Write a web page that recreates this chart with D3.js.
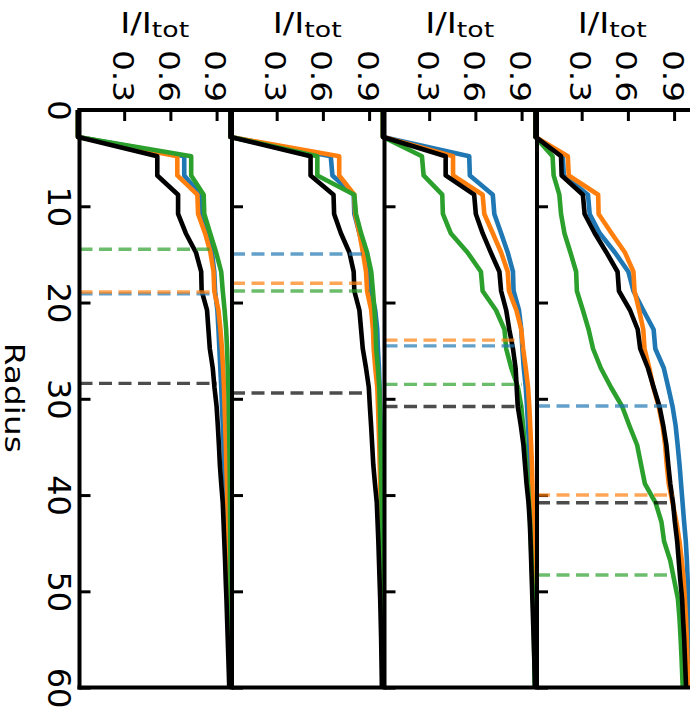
<!DOCTYPE html>
<html><head><meta charset="utf-8">
<script src="https://cdn.jsdelivr.net/npm/d3@7"></script>
<style>body{margin:0;background:#fff}svg{display:block}</style>
</head><body><div id="chart"></div>
<script>
// ---------- data ----------
const radius = [0,2.8,4.8,6.8,8.8,10.8,12.8,14.8,16.8,18.8,20.8,22.8,24.8,26.8,28.8,30.8,32.8,34.8,36.8,38.8,40.8,42.8,44.8,46.8,48.8,50.8,52.8,54.8,56.8,58.8,60];
const xTickValues = [0.3, 0.6, 0.9];
const radiusTickValues = [0, 10, 20, 30, 40, 50, 60];
const seriesColors = ["#1f77b4", "#ff7f0e", "#2ca02c", "#000000"]; // blue, orange, green, black

const p1Blue   = [0,0,0.69,0.69,0.795,0.80,0.84,0.87,0.885,0.89,0.905,0.912,0.918,0.924,0.93,0.935,0.94,0.945,0.95,0.957,0.962,0.966,0.97,0.974,0.977,0.98,0.983,0.985,0.987,0.989,0.99];
const p1Orange = [0,0,0.645,0.645,0.775,0.78,0.825,0.86,0.88,0.885,0.912,0.925,0.935,0.942,0.948,0.952,0.956,0.96,0.963,0.967,0.97,0.973,0.976,0.978,0.98,0.982,0.984,0.986,0.988,0.99,0.99];
const p1Green  = [0,0,0.735,0.735,0.816,0.82,0.858,0.897,0.93,0.94,0.952,0.962,0.968,0.972,0.976,0.979,0.981,0.983,0.985,0.986,0.987,0.988,0.989,0.99,0.99,0.991,0.991,0.992,0.992,0.992,0.992];
const p1Black  = [0,0,0.515,0.515,0.65,0.65,0.70,0.766,0.80,0.803,0.838,0.847,0.856,0.875,0.886,0.90,0.908,0.915,0.921,0.93,0.94,0.945,0.95,0.955,0.959,0.964,0.968,0.972,0.976,0.98,0.982];

const p2Blue   = [0,0,0.651,0.662,0.80,0.804,0.837,0.87,0.90,0.914,0.94,0.953,0.957,0.964,0.968,0.971,0.974,0.976,0.978,0.98,0.982,0.984,0.985,0.986,0.987,0.988,0.989,0.99,0.99,0.991,0.991];
const p2Orange = [0,0,0.706,0.706,0.804,0.81,0.837,0.86,0.88,0.887,0.914,0.925,0.93,0.94,0.953,0.958,0.962,0.966,0.969,0.972,0.975,0.978,0.98,0.982,0.984,0.986,0.987,0.988,0.989,0.99,0.99];
const p2Green  = [0,0,0.564,0.564,0.804,0.815,0.848,0.887,0.914,0.925,0.935,0.942,0.946,0.957,0.966,0.97,0.973,0.975,0.977,0.979,0.981,0.983,0.984,0.985,0.986,0.987,0.988,0.989,0.99,0.99,0.99];
const p2Black  = [0,0,0.52,0.52,0.669,0.673,0.717,0.772,0.80,0.804,0.837,0.848,0.859,0.88,0.898,0.905,0.913,0.92,0.927,0.938,0.95,0.955,0.96,0.964,0.968,0.972,0.975,0.978,0.98,0.982,0.983];

const p3Blue   = [0,0,0.56,0.564,0.713,0.723,0.767,0.81,0.844,0.848,0.883,0.898,0.905,0.914,0.927,0.935,0.942,0.948,0.953,0.958,0.962,0.966,0.97,0.973,0.976,0.979,0.982,0.984,0.986,0.988,0.989];
const p3Orange = [0,0,0.455,0.455,0.647,0.658,0.713,0.767,0.81,0.818,0.866,0.898,0.91,0.927,0.942,0.95,0.956,0.962,0.967,0.97,0.973,0.976,0.979,0.981,0.983,0.985,0.987,0.988,0.989,0.99,0.99];
const p3Green  = [0,0,0.253,0.264,0.385,0.389,0.44,0.549,0.636,0.647,0.734,0.789,0.80,0.833,0.876,0.898,0.91,0.92,0.93,0.94,0.948,0.955,0.96,0.965,0.97,0.974,0.977,0.98,0.982,0.984,0.985];
const p3Black  = [0,0,0.407,0.407,0.592,0.603,0.647,0.70,0.756,0.767,0.80,0.82,0.844,0.861,0.868,0.875,0.895,0.912,0.922,0.932,0.945,0.953,0.958,0.962,0.966,0.97,0.974,0.978,0.982,0.985,0.987];

const p4Blue   = [0,0,0.177,0.184,0.341,0.352,0.417,0.516,0.603,0.636,0.70,0.767,0.778,0.833,0.862,0.89,0.91,0.923,0.935,0.945,0.955,0.965,0.976,0.983,0.988,0.993,0.995,0.996,0.997,0.998,0.998];
const p4Orange = [0,0,0.21,0.216,0.407,0.41,0.494,0.581,0.636,0.643,0.673,0.70,0.708,0.739,0.765,0.80,0.825,0.842,0.852,0.865,0.89,0.915,0.935,0.95,0.962,0.97,0.977,0.982,0.986,0.99,0.992];
const p4Green  = [0,0,0.111,0.118,0.155,0.166,0.188,0.227,0.264,0.269,0.308,0.345,0.374,0.424,0.49,0.563,0.61,0.66,0.685,0.71,0.78,0.818,0.835,0.875,0.9,0.925,0.935,0.942,0.948,0.953,0.956];
const p4Black  = [0,0,0.166,0.17,0.308,0.319,0.385,0.461,0.533,0.542,0.614,0.664,0.68,0.73,0.767,0.805,0.83,0.85,0.862,0.875,0.893,0.905,0.92,0.93,0.94,0.952,0.958,0.965,0.97,0.975,0.978];

// radius where each series reaches 90% (dashed markers): blue, orange, green, black
const p1Cut = [19.1, 18.9, 14.47, 28.4];
const p2Cut = [14.96, 18.0, 18.8, 29.4];
const p3Cut = [24.5, 23.9, 28.5, 30.8];
const p4Cut = [30.75, 40.0, 48.3, 40.8];
const cutLevel = 0.9;

const panels = [
  {series: [p1Blue, p1Orange, p1Green, p1Black], cuts: p1Cut},
  {series: [p2Blue, p2Orange, p2Green, p2Black], cuts: p2Cut},
  {series: [p3Blue, p3Orange, p3Green, p3Black], cuts: p3Cut},
  {series: [p4Blue, p4Orange, p4Green, p4Black], cuts: p4Cut}
];

// ---------- layout ----------
const W = 690, H = 714;
const plotTop = 110, plotBottom = 687.6;
const firstLeft = 79.5, panelW = 152.5;
const FONT = "DejaVu Sans, Liberation Sans, sans-serif";

const svg = d3.select("#chart").append("svg").attr("width", W).attr("height", H)
  .style("font-family", FONT);

const y = d3.scaleLinear().domain([0, 60]).range([plotTop, plotBottom]);

const tickLayer = svg.append("g");
const lineLayer = svg.append("g");
const dashLayer = svg.append("g");
const spineLayer = svg.append("g");
const labelLayer = svg.append("g");

panels.forEach((p, i) => {
  const left = firstLeft + i * panelW;
  const x = d3.scaleLinear().domain([0.01, 1.0]).range([left, left + panelW]);

  // top axis (inward ticks, rotated labels)
  const ax = tickLayer.append("g").attr("transform", `translate(0,${plotTop})`)
    .call(d3.axisTop(x).tickValues(xTickValues).tickSize(-11).tickFormat(d3.format(".1f")));
  ax.select(".domain").remove();
  ax.selectAll(".tick line").attr("stroke", "#000").attr("stroke-width", 3);
  ax.selectAll(".tick text")
    .attr("y", null).attr("dy", null)
    .attr("transform", "translate(-2,-8) rotate(90)")
    .attr("text-anchor", "end")
    .attr("dominant-baseline", "central")
    .attr("font-family", FONT)
    .attr("font-size", 29)
    .attr("textLength", 52)
    .attr("lengthAdjust", "spacingAndGlyphs")
    .attr("fill", "#000");

  // left axis (inward ticks)
  const ay = tickLayer.append("g").attr("transform", `translate(${left},0)`)
    .call(d3.axisLeft(y).tickValues(radiusTickValues).tickSize(-11)
      .tickFormat(i === 0 ? d3.format("d") : () => ""));
  ay.select(".domain").remove();
  ay.selectAll(".tick line").attr("stroke", "#000").attr("stroke-width", 3);
  ay.selectAll(".tick text")
    .attr("x", null).attr("dy", null)
    .attr("transform", "translate(-21,0) rotate(90)")
    .attr("text-anchor", "middle")
    .attr("dominant-baseline", "central")
    .attr("font-family", FONT)
    .attr("font-size", 32)
    .attr("fill", "#000");

  // curves
  const line = d3.line().x(d => x(d[1])).y(d => y(d[0]));
  p.series.forEach((vals, k) => {
    lineLayer.append("path")
      .datum(d3.zip(radius, vals))
      .attr("d", line)
      .attr("fill", "none")
      .attr("stroke", seriesColors[k])
      .attr("stroke-width", 4.6)
      .attr("stroke-linejoin", "round")
      .attr("stroke-linecap", "butt");
  });

  // dashed markers
  p.cuts.forEach((r, k) => {
    dashLayer.append("line")
      .attr("x1", left).attr("x2", x(cutLevel))
      .attr("y1", y(r)).attr("y2", y(r))
      .attr("stroke", seriesColors[k])
      .attr("stroke-opacity", 0.7)
      .attr("stroke-width", 3.4)
      .attr("stroke-dasharray", "13,6.5");
  });

  // left spine
  spineLayer.append("line")
    .attr("x1", left).attr("x2", left)
    .attr("y1", plotTop - 2).attr("y2", plotBottom + 2)
    .attr("stroke", "#000").attr("stroke-width", 4);

  // panel label I/I_tot
  const t = labelLayer.append("text")
    .attr("x", left + panelW / 2 - 1)
    .attr("y", 33.3)
    .attr("text-anchor", "middle")
    .attr("font-size", 28)
    .attr("fill", "#000")
    .attr("textLength", 69)
    .attr("lengthAdjust", "spacingAndGlyphs");
  t.append("tspan").text("I/I");
  t.append("tspan").attr("font-size", 22).attr("dy", 4).text("tot");
});

// top and bottom spines
spineLayer.append("line").attr("x1", firstLeft - 2).attr("x2", W + 2)
  .attr("y1", plotTop).attr("y2", plotTop).attr("stroke", "#000").attr("stroke-width", 4);
spineLayer.append("line").attr("x1", firstLeft - 2).attr("x2", W + 2)
  .attr("y1", plotBottom).attr("y2", plotBottom).attr("stroke", "#000").attr("stroke-width", 4);

// Radius axis label
labelLayer.append("text")
  .attr("transform", `translate(13.5,${(plotTop + plotBottom) / 2 - 1}) rotate(90)`)
  .attr("text-anchor", "middle")
  .attr("dominant-baseline", "central")
  .attr("font-size", 26)
  .attr("textLength", 110)
  .attr("lengthAdjust", "spacingAndGlyphs")
  .attr("fill", "#000")
  .text("Radius");
</script>
</body></html>
